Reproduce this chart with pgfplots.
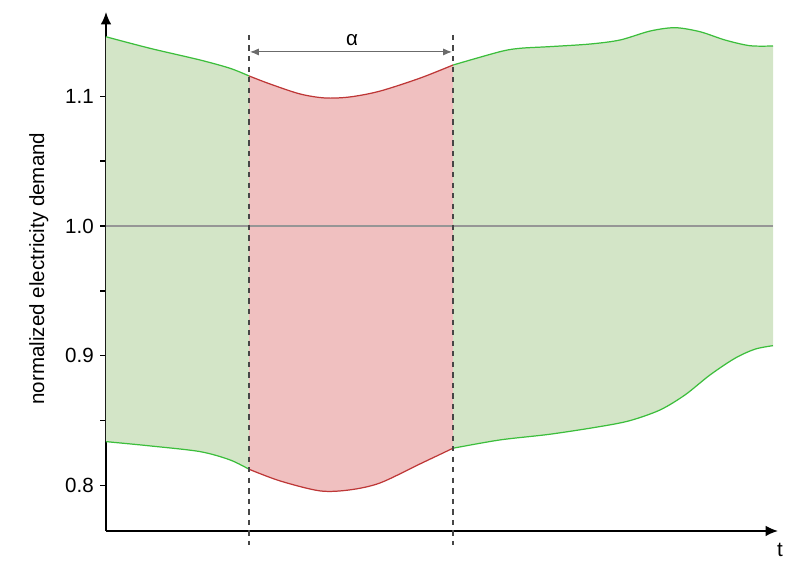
\documentclass[border=0pt]{standalone}
\usepackage{fontspec}
\setmainfont{Liberation Sans}
\usepackage{pgfplots}
\pgfplotsset{compat=1.18}
\usepgfplotslibrary{fillbetween}
\usetikzlibrary{arrows.meta}
\definecolor{gline}{RGB}{60,190,60}
\definecolor{gfill}{RGB}{211,229,199}
\definecolor{rline}{RGB}{190,55,55}
\definecolor{rfill}{RGB}{240,192,192}
\definecolor{midline}{RGB}{150,150,150}
\definecolor{dashc}{RGB}{70,70,70}
\begin{document}
\begin{tikzpicture}
\begin{axis}[
 x=0.02cm, y=25.94cm,
 xmin=106, xmax=778, ymin=0.7648, ymax=1.165,
 axis lines=left,
 axis line style={line width=0.9pt, -{Latex[length=7pt,width=6pt]}},
 xtick=\empty,
 ytick={0.8,0.9,1.0,1.1},
 minor ytick={0.85,0.95,1.05},
 yticklabel style={/pgf/number format/fixed, /pgf/number format/precision=1, /pgf/number format/fixed zerofill},
 /pgf/number format/assume math mode=true,
 tick align=outside,
 major tick length=0.12cm, minor tick length=0.12cm,
 tick style={black, line width=0.8pt},
 font=\fontsize{11.7}{13}\selectfont,
 clip=false,
]
\path (axis cs:0,0.74479) rectangle (axis cs:790,1.17425);
\addplot[name path=U, draw=none, smooth] coordinates {
(106,1.1459) (150,1.1370) (200,1.1280) (230,1.1216) (249,1.1157) (270,1.1095) (300,1.1018) (325,1.0987) (350,1.0995) (380,1.104) (420,1.114) (453,1.1241) (500,1.1344) (520,1.137) (550,1.1383) (590,1.1403) (620,1.1434) (650,1.1503) (675,1.1529) (700,1.1498) (725,1.1434) (750,1.139) (773,1.1388)};
\addplot[name path=L, draw=none, smooth] coordinates {
(106,0.8337) (150,0.8304) (200,0.8260) (230,0.8196) (249,0.8124) (280,0.8034) (320,0.7957) (350,0.7965) (380,0.8018) (420,0.8165) (453,0.8286) (500,0.835) (550,0.8394) (600,0.8453) (630,0.8499) (660,0.8581) (685,0.8697) (710,0.8851) (735,0.898) (755,0.905) (773,0.9077)};
\addplot[gfill, draw=none] fill between[of=U and L];
\addplot[rfill, draw=none] fill between[of=U and L, soft clip={domain=249:453}];
% green lines
\addplot[gline, line width=0.7pt, smooth] coordinates {(106,1.1459) (150,1.1370) (200,1.1280) (230,1.1216) (249,1.1157)};
\addplot[gline, line width=0.7pt, smooth] coordinates {(453,1.1241) (500,1.1344) (520,1.137) (550,1.1383) (590,1.1403) (620,1.1434) (650,1.1503) (675,1.1529) (700,1.1498) (725,1.1434) (750,1.139) (773,1.1388)};
\addplot[gline, line width=0.7pt, smooth] coordinates {(106,0.8337) (150,0.8304) (200,0.8260) (230,0.8196) (249,0.8124)};
\addplot[gline, line width=0.7pt, smooth] coordinates {(453,0.8286) (500,0.835) (550,0.8394) (600,0.8453) (630,0.8499) (660,0.8581) (685,0.8697) (710,0.8851) (735,0.898) (755,0.905) (773,0.9077)};
% red lines
\addplot[rline, line width=0.7pt, smooth] coordinates {(249,1.1157) (270,1.1095) (300,1.1018) (325,1.0987) (350,1.0995) (380,1.104) (420,1.114) (453,1.1241)};
\addplot[rline, line width=0.7pt, smooth] coordinates {(249,0.8124) (280,0.8034) (320,0.7957) (350,0.7965) (380,0.8018) (420,0.8165) (453,0.8286)};
% reference line
\addplot[midline, line width=0.9pt] coordinates {(106,1.0) (773,1.0)};
% dashed
\addplot[dashc, dashed, line width=0.6pt] coordinates {(249,1.1473) (249,0.7540)};
\addplot[dashc, dashed, line width=0.6pt] coordinates {(453,1.1473) (453,0.7540)};
\addplot[dashc!80, line width=0.6pt, {Latex[length=5pt,width=4pt]}-{Latex[length=5pt,width=4pt]}] coordinates {(250,1.1342) (452,1.1342)};
\node at (axis cs:352,1.1434) {α};
\node at (axis cs:780,0.7504) {t};
\node[rotate=90, anchor=base] at (axis cs:44,0.9672) {normalized electricity demand};
\end{axis}
\end{tikzpicture}
\end{document}
